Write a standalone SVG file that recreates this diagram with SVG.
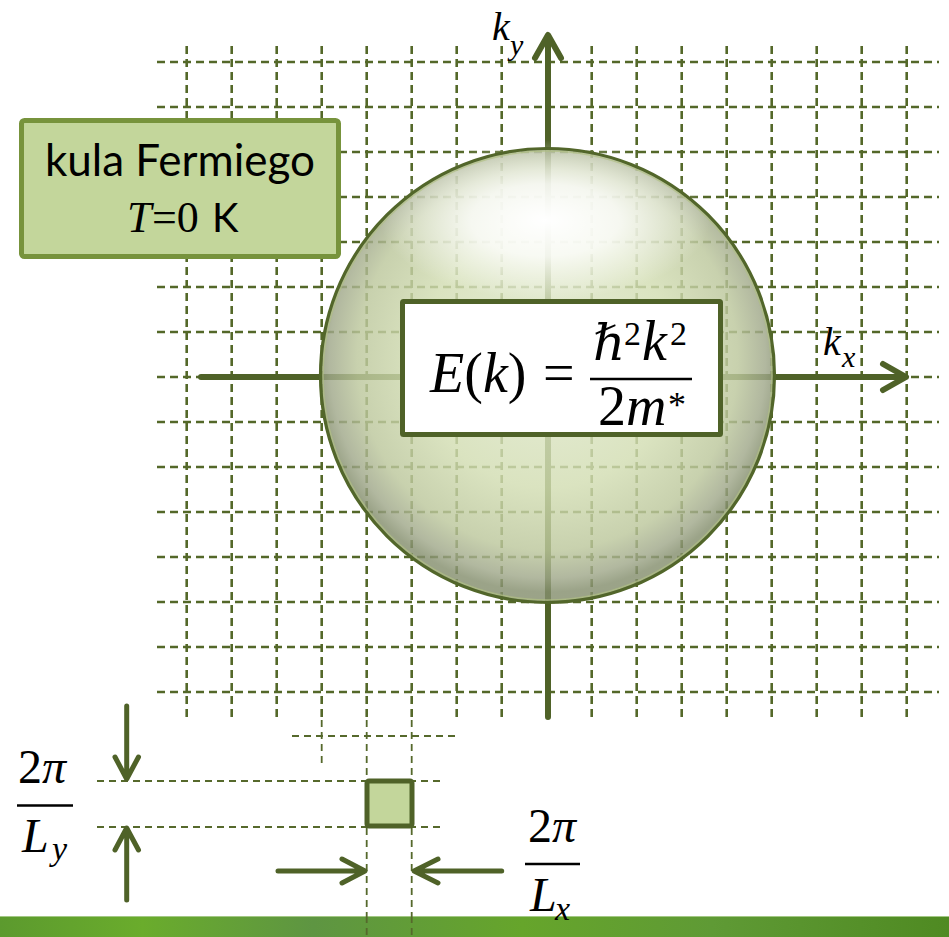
<svg xmlns="http://www.w3.org/2000/svg" width="949" height="937" viewBox="0 0 949 937">
<defs>
<style>
.grid{fill:none;stroke:#546829;stroke-width:2.6;stroke-dasharray:8 5}
.thin{fill:none;stroke:#56692c;stroke-width:1.8;stroke-dasharray:7 5}
.ax{fill:none;stroke:#4f6228;stroke-width:6;stroke-linecap:round;stroke-linejoin:round}
.dim{fill:none;stroke:#4f6228;stroke-width:5;stroke-linecap:round;stroke-linejoin:round}
.m{font-family:"Liberation Serif","DejaVu Serif",serif;fill:#000}
.i{font-style:italic}
.s{font-family:Lato,"Liberation Sans",sans-serif;fill:#000}
.bar{stroke:#000;stroke-width:2.6}
</style>
<radialGradient id="sphBase" cx="547.5" cy="360" r="232" gradientUnits="userSpaceOnUse">
<stop offset="0" stop-color="#e2ead0"/>
<stop offset="0.55" stop-color="#d2ddb2"/>
<stop offset="0.82" stop-color="#bcc79c"/>
<stop offset="0.94" stop-color="#a0a88a"/>
<stop offset="1" stop-color="#858f6e"/>
</radialGradient>
<radialGradient id="sphHi" cx="0.5" cy="0.5" r="0.5">
<stop offset="0" stop-color="#ffffff" stop-opacity="1"/>
<stop offset="0.45" stop-color="#ffffff" stop-opacity="0.8"/>
<stop offset="1" stop-color="#ffffff" stop-opacity="0"/>
</radialGradient>
<linearGradient id="greenBar" x1="0" y1="0" x2="1" y2="0">
<stop offset="0" stop-color="#5c9a2e"/>
<stop offset="0.15" stop-color="#6aac2c"/>
<stop offset="0.33" stop-color="#5e9542"/>
<stop offset="0.55" stop-color="#66a52b"/>
<stop offset="0.75" stop-color="#5f9a35"/>
<stop offset="1" stop-color="#4f8a22"/>
</linearGradient>
</defs>
<rect x="0" y="0" width="949" height="937" fill="#ffffff"/>

<g id="grid">
<path class="grid" d="M157 62H939M157 107H939M157 152H939M157 197H939M157 242H939M157 287H939M157 332H939M157 377H939M157 422H939M157 467H939M157 512H939M157 557H939M157 602H939M157 647H939M157 692H939"/>
<path class="grid" d="M186.7 46V720M231.7 46V720M276.7 46V720M321.7 46V720M366.7 46V720M411.7 46V720M456.7 46V720M501.7 46V720M591.7 46V720M636.7 46V720M681.7 46V720M726.7 46V720M771.7 46V720M816.7 46V720M861.7 46V720M906.7 46V720"/>
<path class="thin" d="M321.7 720V765M366.7 720V937M411.7 720V937M292 736H458M97 781H441M97 827H441"/>
</g>

<g id="bottom-bar">
<rect x="0" y="916" width="949" height="21" fill="url(#greenBar)"/>
<line x1="0" y1="916.5" x2="949" y2="916.5" stroke="#a3c884" stroke-width="1.2"/>
<path class="thin" d="M366.7 916V937M411.7 916V937"/>
</g>

<g id="connectors">
<path class="ax" d="M548 717V36M535 58L548 35L561 58"/>
<path class="ax" d="M201 377H904M883 364L906 377L883 390"/>
<path class="dim" d="M126.7 706V778M115 757L126.7 779L138.5 757"/>
<path class="dim" d="M126.7 900V829M115 850L126.7 828L138.5 850"/>
<path class="dim" d="M278 871H364M342 859L365 871L342 883"/>
<path class="dim" d="M501.7 871H415M438 859L414 871L438 883"/>
</g>

<g id="fermi-sphere">
<circle cx="547.5" cy="375.5" r="227" fill="url(#sphBase)" fill-opacity="0.82"/>
<ellipse cx="545" cy="220" rx="165" ry="80" fill="url(#sphHi)"/>
<circle cx="547.5" cy="375.5" r="224.5" fill="none" stroke="#b0c083" stroke-width="1.5" opacity="0.7"/>
<circle cx="547.5" cy="375.5" r="227" fill="none" stroke="#52662a" stroke-width="3.2"/>
</g>

<g id="formula">
<rect x="402.5" y="301.5" width="318" height="133" rx="1" fill="#ffffff" stroke="#4f6228" stroke-width="5"/>
<text class="m" x="430" y="392" font-size="56"><tspan class="i">E</tspan>(<tspan class="i">k</tspan>)</text>
<text class="m" x="543" y="392" font-size="56">=</text>
<line class="bar" x1="590" y1="379" x2="692" y2="379"/>
<text class="m i" x="593" y="360" font-size="50">ℏ</text>
<text class="m" x="624" y="345" font-size="34">2</text>
<text class="m i" x="642" y="360" font-size="56">k</text>
<text class="m" x="670" y="345" font-size="34">2</text>
<text class="m" x="598" y="425" font-size="56">2<tspan class="i">m</tspan></text>
<text class="m" x="668" y="417" font-size="36">*</text>
</g>

<g id="label-box">
<rect x="21.5" y="120.5" width="317" height="136" rx="3" fill="#c3d69b" stroke="#77933c" stroke-width="5"/>
<text class="s" x="45" y="176" font-size="44" textLength="270" lengthAdjust="spacingAndGlyphs">kula Fermiego</text>
<text class="m i" x="127" y="232" font-size="44">T</text>
<text class="m" x="152" y="232" font-size="44">=0</text>
<text class="s" x="212" y="232" font-size="40">K</text>
</g>

<g id="axis-labels">
<text class="m i" x="492" y="40" font-size="40">k</text>
<text class="m i" x="510" y="55" font-size="30">y</text>
<text class="m i" x="823" y="355" font-size="40">k</text>
<text class="m i" x="842" y="367" font-size="30">x</text>
</g>

<g id="cell">
<rect x="367" y="781" width="45" height="45" rx="2" fill="#c3d69b" stroke="#4f6228" stroke-width="5"/>
</g>

<g id="fraction-y">
<text class="m" x="18" y="783" font-size="48">2<tspan class="i">π</tspan></text>
<line class="bar" x1="17" y1="805.5" x2="73" y2="805.5" stroke-width="3"/>
<text class="m i" x="22" y="852" font-size="48">L</text>
<text class="m i" x="52" y="860" font-size="34">y</text>
</g>

<g id="fraction-x">
<text class="m" x="528" y="842" font-size="48">2<tspan class="i">π</tspan></text>
<line class="bar" x1="525" y1="864" x2="580" y2="864" stroke-width="3"/>
<text class="m i" x="530" y="911" font-size="48">L</text>
<text class="m i" x="555" y="920" font-size="34">x</text>
</g>
</svg>
